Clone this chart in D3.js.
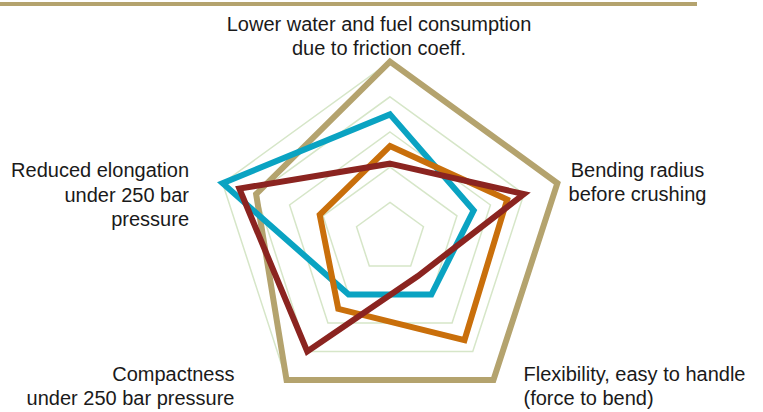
<!DOCTYPE html>
<html>
<head>
<meta charset="utf-8">
<script src="https://cdn.jsdelivr.net/npm/d3@7"></script>
<style>
  html, body { margin: 0; padding: 0; background: #ffffff; }
  svg { display: block; }
  text { font-family: "Liberation Sans", Arial, sans-serif; font-size: 20px; fill: #1a1a1a; }
</style>
</head>
<body>
<svg id="chart" width="763" height="412"></svg>
<script>
// ---- data ----
const axes = [
  ["Lower water and fuel consumption", "due to friction coeff."],
  ["Bending radius", "before crushing"],
  ["Flexibility, easy to handle", "(force to bend)"],
  ["Compactness", "under 250 bar pressure"],
  ["Reduced elongation", "under 250 bar", "pressure"]
];
const levels = [1, 2, 3, 4, 5];
const seriesNames = ["Gold", "Cyan", "Orange", "Red"];
const goldValues   = [5, 5, 5, 5, 4];
const cyanValues   = [3.5, 2.5, 2, 2, 5];
const orangeValues = [2.6, 3.5, 3.6, 2.5, 2.1];
const redValues    = [2.1, 4.0, 1.35, 4.0, 4.5];
const seriesValues = [goldValues, cyanValues, orangeValues, redValues];
const seriesColors = ["#b4a36e", "#0aa3c2", "#c96f0b", "#8b2420"];

// ---- layout ----
const svg = d3.select("#chart");
const cx = 390, cy = 237.6;
const r = d3.scaleLinear().domain([0, 5]).range([0, 176]);
const angle = d3.scaleLinear().domain([0, axes.length]).range([0, 2 * Math.PI]);

// top rule
svg.append("line")
  .attr("x1", 0).attr("x2", 697).attr("y1", 4).attr("y2", 4)
  .attr("stroke", seriesColors[0]).attr("stroke-width", 4);

const g = svg.append("g").attr("transform", `translate(${cx},${cy})`);

const radial = d3.lineRadial()
  .angle((d, i) => angle(i))
  .radius(d => r(d))
  .curve(d3.curveLinearClosed);

// grid pentagons
g.selectAll("path.grid")
  .data(levels)
  .join("path")
  .attr("class", "grid")
  .attr("d", lv => radial(axes.map(() => lv)))
  .attr("fill", "none")
  .attr("stroke", "#d6e6c8")
  .attr("stroke-width", 1.5);

// series
g.selectAll("path.series")
  .data(seriesValues)
  .join("path")
  .attr("class", "series")
  .attr("d", d => radial(d))
  .attr("fill", "none")
  .attr("stroke", (d, i) => seriesColors[i])
  .attr("stroke-width", 6)
  .attr("stroke-linejoin", "miter")
  .attr("stroke-miterlimit", 10);

// labels
const labelSpec = [
  { x: 379, y: 30.5, anchor: "middle" },
  { x: 637.5, y: 177, anchor: "middle" },
  { x: 523.5, y: 381, anchor: "start" },
  { x: 234.5, y: 380.5, anchor: "end" },
  { x: 189, y: 177.3, anchor: "end" }
];
const lineGap = 24.3;
axes.forEach((lines, i) => {
  const s = labelSpec[i];
  const t = svg.append("text")
    .attr("x", s.x).attr("y", s.y)
    .attr("text-anchor", s.anchor);
  lines.forEach((ln, j) => {
    t.append("tspan")
      .attr("x", s.x)
      .attr("dy", j === 0 ? 0 : lineGap)
      .text(ln);
  });
});
</script>
</body>
</html>
